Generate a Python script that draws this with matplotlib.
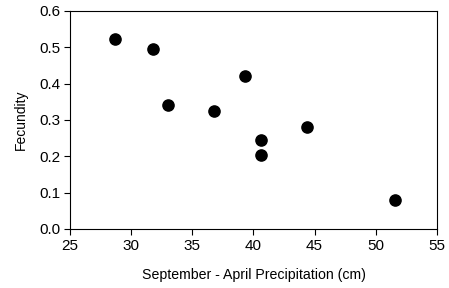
import matplotlib
matplotlib.use("Agg")
import matplotlib.pyplot as plt

precip = [28.7, 31.8, 33.0, 36.8, 39.3, 40.6, 40.6, 44.4, 51.6]
fecundity = [0.524, 0.494, 0.340, 0.324, 0.421, 0.246, 0.203, 0.281, 0.079]

plt.rcParams['font.family'] = ['Liberation Sans', 'DejaVu Sans']

fig = plt.figure(figsize=(4.49, 2.88), dpi=100)
ax = fig.add_axes([0.156, 0.205, 0.817, 0.757])
ax.scatter(precip, fecundity, s=65, color='black', zorder=3)

ax.set_xlim(25, 55)
ax.set_ylim(0, 0.6)
ax.set_xticks(range(25, 56, 5))
ax.set_yticks([0, 0.1, 0.2, 0.3, 0.4, 0.5, 0.6])
ax.set_yticklabels(['0.0', '0.1', '0.2', '0.3', '0.4', '0.5', '0.6'])
ax.tick_params(direction='out', length=4, width=0.8, labelsize=11, pad=3)
for s in ax.spines.values():
    s.set_linewidth(0.8)

ax.set_xlabel('September - April Precipitation (cm)', fontsize=10.2, labelpad=11)
ax.set_ylabel('Fecundity', fontsize=10, labelpad=8)

fig.savefig('out.png', dpi=100)
